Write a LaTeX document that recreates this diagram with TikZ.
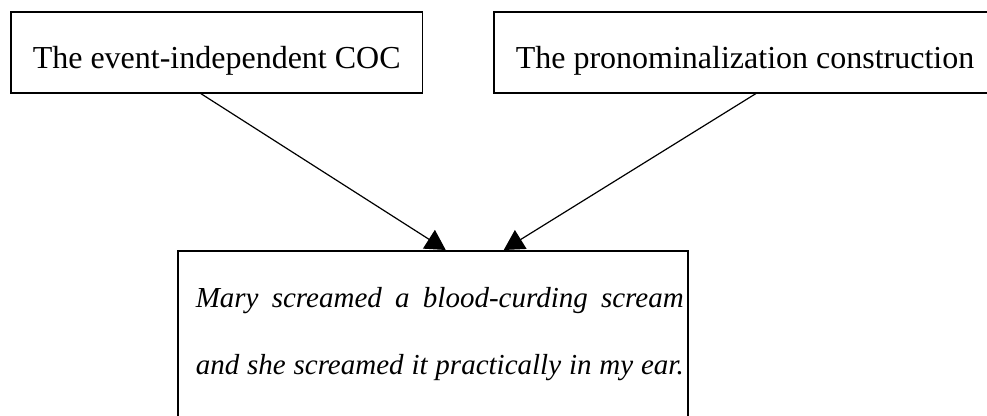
\documentclass[tikz,border=0pt]{standalone}
\usepackage{fontspec}
\setmainfont{Liberation Serif}
\usetikzlibrary{arrows.meta}
\tikzstyle{source} = [rectangle, draw=black, line width=1.5pt, anchor=north west, inner xsep=22pt, inner ysep=24pt, text height=33pt, text depth=0pt, font=\fontsize{32}{38}\selectfont]
\tikzstyle{example} = [rectangle, draw=black, line width=1.5pt, anchor=north west, inner xsep=4pt, inner ysep=37pt]
\tikzstyle{arrow} = [line width=1.2pt,-{Triangle[length=20pt,width=22pt]}]

\begin{document}
\begin{tikzpicture}
[x=1pt,y=-1pt]

\clip (0,0) rectangle (987,415);

\node (coc) [source] at (10,11) {The event-independent COC};
\node (pron) [source] at (493,11) {The pronominalization construction};
\node (sent) [example] at (177,250) {\hspace*{14pt}\parbox[t][170pt][t]{488pt}{\fontsize{29}{67}\selectfont\itshape\parfillskip=0pt Mary screamed a blood-curding scream and she screamed it practically in my ear.}};

\draw [arrow] ([xshift=-16pt]coc.south) -- ([xshift=13pt]sent.north);
\draw [arrow] ([xshift=11pt]pron.south) -- ([xshift=71pt]sent.north);

\end{tikzpicture}
\end{document}
